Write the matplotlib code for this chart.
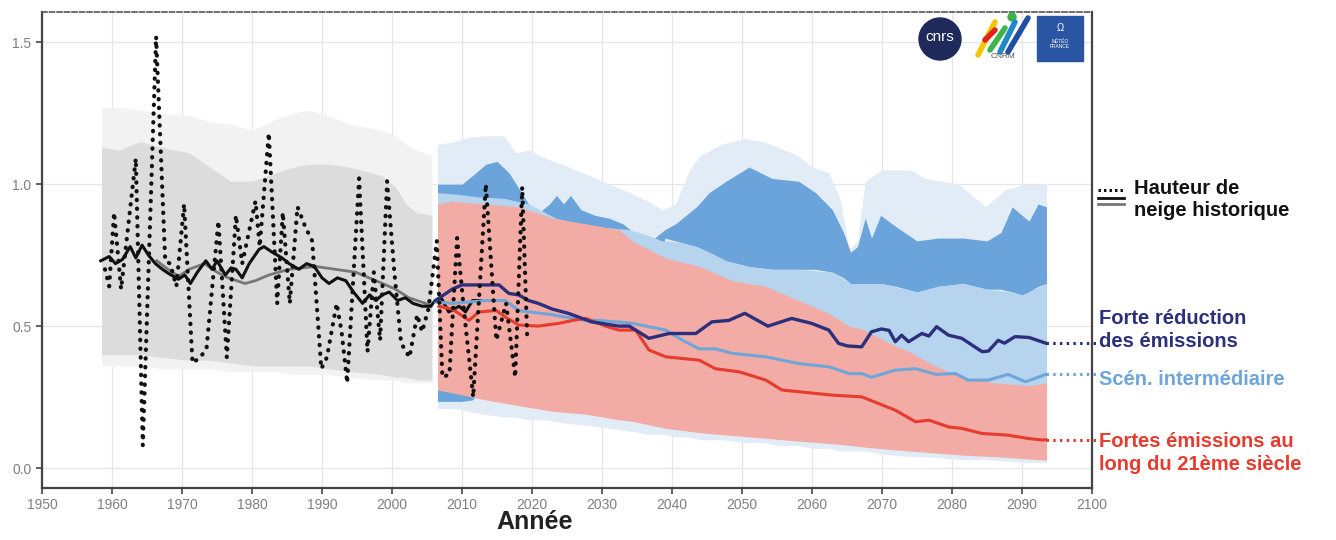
import matplotlib
matplotlib.use("Agg")
import matplotlib.pyplot as plt
from matplotlib.patches import Ellipse, Rectangle
from matplotlib.lines import Line2D

plt.rcParams['font.family'] = ['Liberation Sans', 'DejaVu Sans']

# ---- observed snow depth (yearly values, dotted) ----
obs_years = [1959.0, 1959.6, 1960.3, 1961.3, 1963.4, 1964.4, 1966.3, 1967.6, 1968.3, 1969.2,
             1970.3, 1971.5, 1972.6, 1973.5, 1975.2, 1976.4, 1977.7, 1978.6, 1980.5, 1981.1,
             1982.4, 1983.6, 1984.4, 1985.4, 1986.5, 1987.6, 1988.6, 1989.9, 1990.7, 1992.1,
             1992.8, 1993.6, 1995.3, 1996.5, 1997.4, 1998.3, 1999.3, 2000.3, 2001.3, 2002.5,
             2003.6, 2004.3, 2005.2, 2006.4, 2007.2, 2008.2, 2009.3, 2010.3, 2011.6, 2013.4,
             2014.9, 2016.3, 2017.6, 2018.6, 2019.3]
obs_vals = [0.70, 0.64, 0.90, 0.63, 1.09, 0.08, 1.52, 0.73, 0.72, 0.64,
            0.93, 0.37, 0.39, 0.42, 0.87, 0.39, 0.89, 0.72, 0.94, 0.78,
            1.18, 0.58, 0.90, 0.58, 0.92, 0.85, 0.80, 0.35, 0.39, 0.58,
            0.48, 0.30, 1.02, 0.41, 0.69, 0.45, 1.01, 0.70, 0.44, 0.39,
            0.54, 0.48, 0.56, 0.80, 0.32, 0.33, 0.81, 0.55, 0.25, 1.00,
            0.45, 0.58, 0.32, 0.99, 0.47]

# observed smoothed (black)
obs_smooth_years = [1958.4, 1959.6, 1960.5, 1961.5, 1962.6, 1963.4, 1964.3, 1965.2, 1966.2, 1967.2,
                    1968.1, 1969.5, 1970.4, 1971.2, 1972.2, 1973.4, 1974.3, 1975.0, 1976.2, 1977.0,
                    1977.7, 1978.6, 1979.6, 1981.0, 1981.7, 1982.9, 1984.3, 1985.3, 1986.7, 1987.8,
                    1988.9, 1990.0, 1991.0, 1992.2, 1993.4, 1994.5, 1995.8, 1996.8, 1997.7, 1998.6,
                    1999.6, 2000.8, 2001.9, 2003.0, 2004.3, 2005.5, 2006.2, 2007.0, 2008.1, 2009.6,
                    2010.5, 2011.5, 2012.6]
obs_smooth_vals = [0.73, 0.745, 0.72, 0.735, 0.78, 0.74, 0.785, 0.75, 0.72, 0.70,
                   0.685, 0.665, 0.68, 0.65, 0.69, 0.73, 0.70, 0.73, 0.68, 0.705,
                   0.70, 0.67, 0.72, 0.77, 0.78, 0.76, 0.74, 0.72, 0.70, 0.72,
                   0.71, 0.67, 0.65, 0.67, 0.66, 0.62, 0.58, 0.61, 0.59, 0.61,
                   0.62, 0.59, 0.60, 0.58, 0.57, 0.57, 0.59, 0.60, 0.55, 0.57,
                   0.55, 0.59, 0.59]

# historical simulation (grey line + grey bands)
hist_years = [1966.4, 1968.0, 1969.5, 1971.0, 1973.2, 1975.0, 1976.6, 1979.0, 1980.5, 1982.4,
              1985.3, 1989.1, 1991.9, 1994.8, 1997.7, 2000.5, 2002.4, 2004.8, 2005.6]
hist_vals = [0.73, 0.70, 0.675, 0.70, 0.72, 0.69, 0.67, 0.65, 0.66, 0.68,
             0.70, 0.71, 0.70, 0.69, 0.66, 0.63, 0.60, 0.58, 0.57]

hist_band_years = [1958.5, 1961, 1964, 1967, 1971, 1974, 1977, 1980, 1983.5, 1986,
                   1988, 1991, 1994, 1998.5, 2000.5, 2002, 2003.5, 2005.7]
hist_in_hi = [1.13, 1.12, 1.15, 1.13, 1.11, 1.06, 1.01, 1.01, 1.04, 1.06,
              1.07, 1.07, 1.06, 1.03, 0.99, 0.93, 0.90, 0.89]
hist_in_lo = [0.40, 0.40, 0.40, 0.39, 0.38, 0.38, 0.37, 0.36, 0.36, 0.36,
              0.36, 0.35, 0.34, 0.33, 0.32, 0.32, 0.31, 0.31]
hist_out_hi = [1.27, 1.27, 1.26, 1.25, 1.24, 1.22, 1.21, 1.19, 1.23, 1.25,
               1.26, 1.24, 1.21, 1.19, 1.17, 1.14, 1.12, 1.10]
hist_out_lo = [0.36, 0.36, 0.36, 0.35, 0.35, 0.35, 0.34, 0.34, 0.34, 0.33,
               0.33, 0.33, 0.32, 0.31, 0.31, 0.30, 0.30, 0.30]

# future envelope (very light blue)
env_years = [2006.5, 2009, 2011, 2013, 2016, 2017.7, 2019.6, 2022, 2024.3, 2028.2,
             2031, 2034, 2036.5, 2038.7, 2040.5, 2042.5, 2044, 2047, 2050.4, 2053,
             2055.1, 2058, 2060, 2062.4, 2064, 2065.3, 2066.5, 2067.6, 2070, 2074,
             2076.2, 2081, 2084.8, 2087.6, 2090.5, 2093.5]
env_hi = [1.14, 1.15, 1.165, 1.17, 1.17, 1.11, 1.12, 1.09, 1.07, 1.03,
          1.00, 0.97, 0.94, 0.91, 0.93, 1.05, 1.10, 1.14, 1.16, 1.15,
          1.13, 1.10, 1.06, 1.04, 0.95, 0.77, 0.80, 1.01, 1.05, 1.05,
          1.02, 1.00, 0.92, 0.98, 1.00, 1.00]
env_lo = [0.21, 0.21, 0.20, 0.19, 0.18, 0.18, 0.17, 0.17, 0.16, 0.15,
          0.14, 0.13, 0.12, 0.12, 0.11, 0.11, 0.10, 0.10, 0.09, 0.09,
          0.08, 0.08, 0.07, 0.07, 0.06, 0.06, 0.06, 0.06, 0.05, 0.04,
          0.04, 0.03, 0.03, 0.025, 0.02, 0.02]

# RCP2.6 band (medium blue)
rcp26_band_years = [2006.5, 2010, 2011.5, 2013.4, 2015, 2016.7, 2018, 2019.5, 2021, 2022.5,
                    2023.5, 2024.5, 2025.5, 2027, 2029, 2031, 2033, 2035, 2037, 2039,
                    2040.5, 2042, 2043.5, 2045.3, 2047.7, 2051, 2054.3, 2058.1, 2060.5, 2062.9,
                    2064.5, 2065.5, 2066.5, 2067.6, 2068.5, 2069.8, 2072, 2075, 2078, 2081.6,
                    2085, 2087, 2088.6, 2090, 2091, 2092.3, 2093.5]
rcp26_hi = [1.00, 1.00, 1.03, 1.07, 1.08, 1.04, 0.99, 0.93, 0.90, 0.93,
            0.96, 0.93, 0.96, 0.91, 0.89, 0.88, 0.86, 0.82, 0.80, 0.84,
            0.86, 0.89, 0.92, 0.97, 1.01, 1.06, 1.02, 1.01, 0.97, 0.91,
            0.83, 0.76, 0.78, 0.88, 0.81, 0.89, 0.85, 0.80, 0.81, 0.81,
            0.80, 0.83, 0.92, 0.89, 0.87, 0.93, 0.92]
rcp26_lo = [0.235, 0.235, 0.24, 0.30, 0.30, 0.30, 0.30, 0.30, 0.30, 0.30,
            0.30, 0.30, 0.30, 0.30, 0.30, 0.30, 0.40, 0.50, 0.60, 0.81,
            0.80, 0.79, 0.78, 0.76, 0.73, 0.71, 0.70, 0.70, 0.70, 0.69,
            0.67, 0.65, 0.65, 0.65, 0.65, 0.65, 0.64, 0.62, 0.64, 0.65,
            0.63, 0.63, 0.62, 0.61, 0.62, 0.64, 0.65]

# RCP4.5 band (light blue)
rcp45_band_years = [2006.5, 2009, 2012.4, 2016, 2019.6, 2023.4, 2026, 2029.1, 2033.9, 2036.5,
                    2038.6, 2039.5, 2041, 2043.5, 2045.3, 2047.7, 2051, 2054.3, 2058.1, 2062.9,
                    2065.5, 2070, 2075, 2078, 2081.6, 2085, 2088.6, 2090, 2093.5]
rcp45_hi = [0.97, 0.965, 0.955, 0.95, 0.93, 0.88, 0.865, 0.85, 0.84, 0.82,
            0.80, 0.80, 0.795, 0.78, 0.76, 0.73, 0.71, 0.70, 0.70, 0.69,
            0.65, 0.65, 0.62, 0.64, 0.65, 0.63, 0.62, 0.61, 0.65]
rcp45_lo = [0.28, 0.27, 0.26, 0.25, 0.24, 0.22, 0.21, 0.20, 0.18, 0.17,
            0.17, 0.17, 0.16, 0.15, 0.15, 0.14, 0.14, 0.14, 0.14, 0.15,
            0.18, 0.20, 0.22, 0.24, 0.25, 0.25, 0.25, 0.25, 0.25]

# RCP8.5 band (pink)
rcp85_band_years = [2006.5, 2008.6, 2013.4, 2018.1, 2022.9, 2027.7, 2032.4, 2034.3, 2039.1, 2043.9,
                    2048.6, 2053.4, 2058.1, 2062.4, 2065.3, 2067.1, 2071.9, 2074, 2076.7, 2081.4,
                    2086.2, 2091, 2093.5]
rcp85_hi = [0.93, 0.94, 0.93, 0.92, 0.88, 0.86, 0.84, 0.80, 0.74, 0.71,
            0.66, 0.64, 0.59, 0.545, 0.50, 0.49, 0.43, 0.41, 0.37, 0.32,
            0.30, 0.29, 0.30]
rcp85_lo = [0.275, 0.265, 0.24, 0.22, 0.20, 0.19, 0.17, 0.165, 0.14, 0.125,
            0.115, 0.105, 0.095, 0.087, 0.08, 0.075, 0.064, 0.06, 0.055, 0.046,
            0.04, 0.032, 0.028]

# scenario medians
rcp26_years = [2006.2, 2008.6, 2010, 2015.3, 2016.7, 2018.1, 2019.5, 2020.9, 2022.9, 2025.2,
               2028.5, 2032.4, 2033.9, 2036.7, 2039.6, 2043.4, 2045.7, 2048.1, 2050.4, 2053.7,
               2057.1, 2059.9, 2062.4, 2063.8, 2065.1, 2067.1, 2068.5, 2069.9, 2071.0, 2071.9,
               2072.8, 2073.8, 2075.7, 2076.7, 2077.8, 2079.5, 2081.4, 2084.3, 2085.2, 2086.6,
               2087.5, 2089.0, 2091.0, 2093.4]
rcp26_vals = [0.59, 0.63, 0.645, 0.645, 0.615, 0.61, 0.59, 0.58, 0.56, 0.545,
              0.515, 0.50, 0.50, 0.457, 0.474, 0.474, 0.515, 0.52, 0.545, 0.50,
              0.527, 0.51, 0.486, 0.439, 0.43, 0.427, 0.48, 0.49, 0.485, 0.445,
              0.468, 0.445, 0.474, 0.465, 0.498, 0.468, 0.457, 0.41, 0.412, 0.45,
              0.44, 0.463, 0.46, 0.44]

rcp45_years = [2006.2, 2008.6, 2013.4, 2016.2, 2018.1, 2022.9, 2027.7, 2029.6, 2034.3, 2039.1,
               2041.5, 2043.9, 2046.2, 2048.6, 2053.4, 2058.1, 2062.4, 2065.3, 2067.1, 2068.5,
               2071.9, 2074.8, 2077.7, 2080.5, 2082.3, 2085.2, 2088.0, 2090.5, 2093.4]
rcp45_vals = [0.585, 0.58, 0.59, 0.59, 0.555, 0.54, 0.52, 0.52, 0.51, 0.486,
              0.45, 0.42, 0.42, 0.404, 0.392, 0.368, 0.357, 0.333, 0.333, 0.32,
              0.345, 0.35, 0.33, 0.333, 0.31, 0.31, 0.33, 0.304, 0.33]

rcp85_years = [2006.7, 2008.6, 2011.0, 2012.4, 2014.9, 2016.3, 2018.1, 2020.9, 2023.9, 2025.8,
               2027.7, 2030.5, 2032.4, 2034.8, 2036.7, 2039.1, 2043.9, 2046.2, 2049.6, 2053.4,
               2055.7, 2058.1, 2062.9, 2067.1, 2071.9, 2074.8, 2076.7, 2079.5, 2081.4, 2084.3,
               2088.0, 2091.0, 2092.9, 2093.4]
rcp85_vals = [0.57, 0.56, 0.52, 0.55, 0.555, 0.53, 0.504, 0.50, 0.51, 0.52,
              0.527, 0.50, 0.486, 0.486, 0.416, 0.392, 0.38, 0.35, 0.339, 0.31,
              0.275, 0.269, 0.257, 0.251, 0.204, 0.163, 0.169, 0.145, 0.14, 0.122,
              0.116, 0.104, 0.099, 0.10]

navy = '#2c2f7c'
light_line = '#6ea6da'
red = '#e63b2e'

fig = plt.figure(figsize=(13.36, 5.4), dpi=100)
ax = fig.add_axes([42 / 1336, 52 / 540, 1050 / 1336, 476 / 540])

# bands
ax.fill_between(hist_band_years, hist_out_lo, hist_out_hi, color='#f2f2f2', lw=0, zorder=1)
ax.fill_between(hist_band_years, hist_in_lo, hist_in_hi, color='#dcdcdc', lw=0, zorder=1.1)
ax.fill_between(env_years, env_lo, env_hi, color='#e2ecf7', lw=0, zorder=1.2)
ax.fill_between(rcp26_band_years, rcp26_lo, rcp26_hi, color='#6ba4da', lw=0, zorder=1.3)
ax.fill_between(rcp45_band_years, rcp45_lo, rcp45_hi, color='#b7d4ef', lw=0, zorder=1.4)
ax.fill_between(rcp85_band_years, rcp85_lo, rcp85_hi, color='#f2aba5', lw=0, zorder=1.5)

# lines
ax.plot(hist_years, hist_vals, color='#777777', lw=2.0, zorder=3)
ax.plot(obs_smooth_years, obs_smooth_vals, color='#111111', lw=2.2, zorder=3.1)
ax.plot(rcp45_years, rcp45_vals, color=light_line, lw=2.2, zorder=3.2)
ax.plot(rcp85_years, rcp85_vals, color=red, lw=2.2, zorder=3.3)
ax.plot(rcp26_years, rcp26_vals, color=navy, lw=2.4, zorder=3.4)
ax.plot(obs_years, obs_vals, color='#111111', lw=3.0, linestyle=(0, (0.1, 2.0)),
        dash_capstyle='round', zorder=4)

# connectors + labels on the right
for yrs, vals, col in [(rcp26_years, rcp26_vals, navy),
                       (rcp45_years, rcp45_vals, light_line),
                       (rcp85_years, rcp85_vals, red)]:
    ax.plot([yrs[-1], 2100.8], [vals[-1], vals[-1]], color=col, lw=2.2,
            linestyle=(0, (0.8, 1.4)), clip_on=False, zorder=5)

lab = dict(fontsize=14.5, fontweight='bold', ha='left', va='center', clip_on=False)
ax.text(2101.0, 0.528, 'Forte réduction', color=navy, **lab)
ax.text(2101.0, 0.447, 'des émissions', color=navy, **lab)
ax.text(2101.0, 0.313, 'Scén. intermédiaire', color=light_line, **lab)
ax.text(2101.0, 0.095, 'Fortes émissions au', color=red, **lab)
ax.text(2101.0, 0.014, 'long du 21ème siècle', color=red, **lab)
ax.text(2106.0, 0.986, 'Hauteur de', color='#111111', **lab)
ax.text(2106.0, 0.908, 'neige historique', color='#111111', **lab)
ax.plot([2100.8, 2104.6], [0.979, 0.979], color='#111111', lw=2.2,
        linestyle=(0, (0.8, 1.0)), clip_on=False)
ax.plot([2100.8, 2104.6], [0.951, 0.951], color='#111111', lw=2.0, clip_on=False)
ax.plot([2100.8, 2104.6], [0.930, 0.930], color='#777777', lw=2.0, clip_on=False)

# axes styling
ax.set_xlim(1950, 2100)
ax.set_ylim(-0.07, 1.606)
ax.set_xticks(range(1950, 2101, 10))
ax.set_yticks([0.0, 0.5, 1.0, 1.5])
ax.set_yticklabels(['0.0', '0.5', '1.0', '1.5'])
ax.grid(True, color='#e6e6e6', lw=0.9)
ax.set_axisbelow(True)
ax.tick_params(colors='#444444', labelcolor='#7f7f7f', labelsize=10, length=4, width=1.2)
for s in ['left', 'bottom', 'right']:
    ax.spines[s].set_color('#444444')
    ax.spines[s].set_linewidth(1.6)
ax.spines['top'].set_color('#555555')
ax.spines['top'].set_linewidth(1.2)
ax.spines['top'].set_linestyle((0, (3, 1.5)))

fig.text(535 / 1336, 1 - 522 / 540, 'Année', fontsize=18, fontweight='bold',
         color='#222222', ha='center', va='center')

# logos (approximations)
fig.add_artist(Ellipse((940 / 1336, 1 - 39 / 540), 42 / 1336, 42 / 540,
                       transform=fig.transFigure, color='#1f2a5c'))
fig.text(940 / 1336, 1 - 37 / 540, 'cnrs', color='white', fontsize=11,
         ha='center', va='center')
for (x0, y0, x1, y1, c) in [(978, 55, 995, 22, '#f5c400'), (990, 50, 1005, 28, '#3bb54a'),
                            (1000, 52, 1015, 22, '#1e88c8'), (1008, 52, 1028, 18, '#1f4fa0'),
                            (985, 40, 995, 30, '#e2231a')]:
    fig.add_artist(Line2D([x0 / 1336, x1 / 1336], [1 - y0 / 540, 1 - y1 / 540],
                          transform=fig.transFigure, color=c, lw=4, solid_capstyle='round'))
fig.add_artist(Ellipse((1012 / 1336, 1 - 17 / 540), 8 / 1336, 8 / 540,
                       transform=fig.transFigure, color='#3bb54a'))
fig.text(1003 / 1336, 1 - 57 / 540, 'CNRM', color='#555555', fontsize=6,
         ha='center', va='center')
fig.add_artist(Rectangle((1037 / 1336, 1 - 61 / 540), 46 / 1336, 45 / 540,
                         transform=fig.transFigure, color='#2a55a2'))
fig.text(1060 / 1336, 1 - 28 / 540, 'Ω', color='white', fontsize=7, ha='center', va='center')
fig.text(1060 / 1336, 1 - 44 / 540, 'MÉTÉO\nFRANCE', color='white', fontsize=3.5,
         ha='center', va='center', linespacing=1.1)

fig.savefig('out.png', dpi=100)
